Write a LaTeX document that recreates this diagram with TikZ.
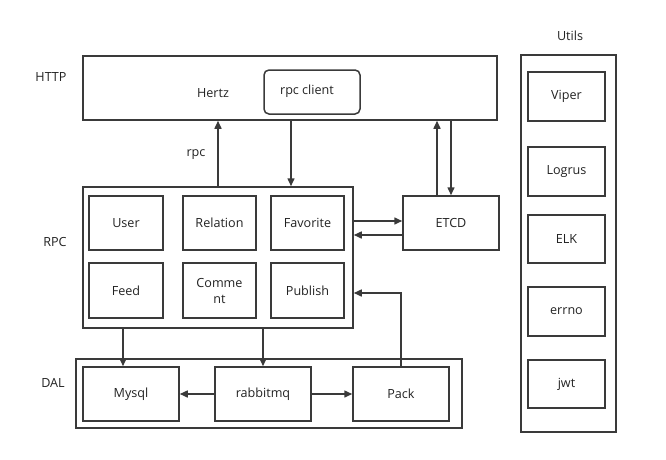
\documentclass[tikz,border=0pt]{standalone}
\usepackage{fontspec}
\setmainfont{Open Sans}
\usetikzlibrary{arrows.meta,calc}
\definecolor{ln}{HTML}{3a3a3a}
\definecolor{tx}{HTML}{222222}
\begin{document}
\begin{tikzpicture}[x=1pt,y=-1pt,
  box/.style={draw=ln,line width=1.5pt,inner sep=0pt,text=tx,font=\fontsize{12.6}{16}\selectfont,align=center},
  lbl/.style={text=tx,font=\fontsize{12.6}{16}\selectfont},
  arr/.style={draw=ln,line width=1.5pt,-{Triangle[length=8pt,width=7pt]}},
  ln/.style={draw=ln,line width=1.5pt}]
\useasboundingbox (0,0) rectangle (666,460);
% HTTP
\node[box,minimum width=414pt,minimum height=64pt] (http) at (290,88) {};
\node[box,rounded corners=5pt,minimum width=96pt,minimum height=44pt] (client) at (312,92) {};
\node[lbl] (clientt) at (307,91) {rpc client};
\node[lbl] (hertz) at (213,93) {Hertz};
% RPC
\node[box,minimum width=270pt,minimum height=141pt] (rpcb) at (218,257.5) {};
\node[box,minimum width=74pt,minimum height=54pt] (user) at (126,223) {User};
\node[box,minimum width=73pt,minimum height=54pt] (relation) at (219.5,223) {Relation};
\node[box,minimum width=73pt,minimum height=54pt] (favorite) at (307.5,223) {Favorite};
\node[box,minimum width=74pt,minimum height=55pt] (feed) at (126,290.5) {Feed};
\node[box,minimum width=73pt,minimum height=55pt] (comment) at (219.5,290.5) {Comme\\nt};
\node[box,minimum width=73pt,minimum height=55pt] (publish) at (307.5,290.5) {Publish};
\node[box,minimum width=96pt,minimum height=54pt] (etcd) at (451,223) {ETCD};
% DAL
\node[box,minimum width=386pt,minimum height=69pt] (dal) at (269,393.5) {};
\node[box,minimum width=96pt,minimum height=54pt] (mysql) at (131,394) {Mysql};
\node[box,minimum width=96pt,minimum height=54pt] (rabbit) at (263,394) {rabbitmq};
\node[box,minimum width=96pt,minimum height=54pt] (pack) at (401,394) {Pack};
% Utils
\node[box,minimum width=95pt,minimum height=377pt] (utils) at (568.5,243.5) {};
\node[box,minimum width=77pt,minimum height=49pt] (viper) at (566.5,96.5) {Viper};
\node[box,minimum width=77pt,minimum height=49pt] (logrus) at (566.5,171.5) {Logrus};
\node[box,minimum width=77pt,minimum height=48pt] (elk) at (566.5,239) {ELK};
\node[box,minimum width=77pt,minimum height=49pt] (errno) at (566.5,311.5) {errno};
\node[box,minimum width=77pt,minimum height=48pt] (jwt) at (566.5,384) {jwt};
% labels
\node[lbl] (lhttp) at (51,77) {HTTP};
\node[lbl] (lrpc) at (55,242) {RPC};
\node[lbl] (ldal) at (53,383) {DAL};
\node[lbl] (lrpcarrow) at (196,155) {rpc};
\node[lbl] (lutils) at (570,36) {Utils};
% coordinates for connector columns
\coordinate (c1) at (218,0);
\coordinate (c2) at (291,0);
\coordinate (c3) at (437,0);
\coordinate (c4) at (451,0);
\coordinate (c5) at (123,0);
\coordinate (c6) at (263,0);
\coordinate (r1) at (0,221);
\coordinate (r2) at (0,235);
\coordinate (r3) at (0,293);
% connectors
\draw[arr] (rpcb.north -| c1) -- (http.south -| c1);
\draw[arr] (http.south -| c2) -- (rpcb.north -| c2);
\draw[arr] (etcd.north -| c3) -- (http.south -| c3);
\draw[arr] (http.south -| c4) -- (etcd.north -| c4);
\draw[arr] (rpcb.east |- r1) -- (etcd.west |- r1);
\draw[arr] (etcd.west |- r2) -- (rpcb.east |- r2);
\draw[arr] (rpcb.south -| c5) -- (mysql.north -| c5);
\draw[arr] (rpcb.south -| c6) -- (rabbit.north -| c6);
\draw[arr] (pack.north) |- (rpcb.east |- r3);
\draw[arr] (rabbit.west) -- (mysql.east);
\draw[arr] (rabbit.east) -- (pack.west);
\end{tikzpicture}
\end{document}
